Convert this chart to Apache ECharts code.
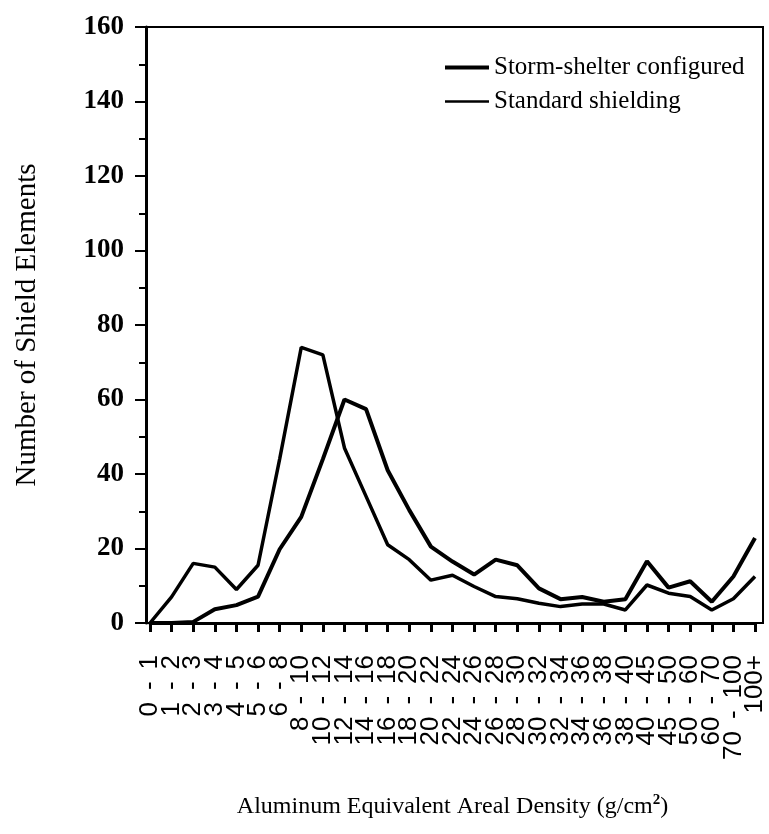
<!DOCTYPE html>
<html>
<head>
<meta charset="utf-8">
<script src="https://cdn.jsdelivr.net/npm/echarts@6/dist/echarts.min.js"></script>
<style>
  html, body { margin: 0; padding: 0; background: #fff; }
  #main { width: 769px; height: 834px; }
</style>
</head>
<body>
<div id="main"></div>
<script>
// 横轴分组 (g/cm2)
let categories = [
  "0 - 1", "1 - 2", "2 - 3", "3 - 4", "4 - 5", "5 - 6", "6 - 8", "8 - 10",
  "10 - 12", "12 - 14", "14 - 16", "16 - 18", "18 - 20", "20 - 22", "22 - 24",
  "24 - 26", "26 - 28", "28 - 30", "30 - 32", "32 - 34", "34 - 36", "36 - 38",
  "38 - 40", "40 - 45", "45 - 50", "50 - 60", "60 - 70", "70 - 100", "100+",
];

let stormShelter = [
  0, 0, 0.3, 3.7, 4.8, 7.1, 19.8, 28.5, 44, 60, 57.4, 41, 30.3, 20.5, 16.5,
  13, 17, 15.5, 9.3, 6.4, 7, 5.7, 6.4, 16.6, 9.5, 11.2, 5.7, 12.5, 22.8,
];

let standard = [
  0, 7, 16, 15, 9, 15.5, 44, 74, 72, 47, 34, 21, 17, 11.5, 12.8,
  9.8, 7.1, 6.5, 5.3, 4.4, 5.1, 5.1, 3.5, 10.2, 8, 7.1, 3.5, 6.5, 12.5,
];

let yTicks = { min: 0, max: 160, interval: 20 };

let serif = "Liberation Serif";
let sans = "Liberation Sans";

let myChart = document.getElementById("main");
let initChart = echarts.init(myChart, null, { renderer: "canvas" });

let option = {
  animation: false,
  backgroundColor: "#fff",

  legend: {
    orient: "vertical",
    left: 443,
    top: 55,
    padding: 0,
    itemWidth: 44,
    itemHeight: 14,
    itemGap: 9,
    itemStyle: { opacity: 0 },
    textStyle: { fontFamily: serif, fontSize: 25, color: "#000" },
    data: [
      { name: "Storm-shelter configured", lineStyle: { width: 4, color: "#000" } },
      { name: "Standard shielding", lineStyle: { width: 2.5, color: "#000" } },
    ],
  },

  grid: [
    // 外框 + 纵轴
    {
      left: 146, right: 6, top: 27, bottom: 211,
      show: true, borderColor: "#000", borderWidth: 2,
      backgroundColor: "transparent",
    },
    // 数据区
    { left: 150, right: 14, top: 27, bottom: 211 },
  ],

  xAxis: [
    { gridIndex: 0, type: "value", show: false, min: 0, max: 1 },
    {
      gridIndex: 1,
      type: "category",
      data: categories,
      boundaryGap: false,
      axisLine: { show: true, lineStyle: { color: "#000", width: 3 } },
      axisTick: { show: true, length: 9, interval: 0, lineStyle: { color: "#000", width: 3 } },
      axisLabel: {
        interval: 0,
        rotate: 90,
        margin: 32,
        fontFamily: sans,
        fontSize: 26,
        color: "#000",
        // 破折号两侧留宽一些
        formatter: (v) => v.replace(" - ", "{d|-}"),
        rich: {
          d: { fontFamily: sans, fontSize: 26, color: "#000", padding: [0, 12, 0, 12] },
        },
      },
      splitLine: { show: false },
      name: "Aluminum Equivalent Areal Density (g/cm{sup|2})",
      nameLocation: "middle",
      nameGap: 170,
      nameTextStyle: {
        fontFamily: serif,
        fontSize: 24,
        color: "#000",
        rich: {
          sup: { fontFamily: serif, fontSize: 15, color: "#000", fontWeight: "bold", verticalAlign: "top", padding: [0, 0, 12, 0] },
        },
      },
    },
  ],

  yAxis: [
    {
      gridIndex: 0,
      type: "value",
      min: yTicks.min,
      max: yTicks.max,
      interval: yTicks.interval,
      axisLine: { show: true, lineStyle: { color: "#000", width: 3 } },
      axisTick: { show: true, length: 11, lineStyle: { color: "#000", width: 2 } },
      minorTick: { show: true, splitNumber: 2, length: 7, lineStyle: { color: "#000", width: 2 } },
      splitLine: { show: false },
      axisLabel: {
        margin: 22,
        fontFamily: serif,
        fontWeight: "bold",
        fontSize: 27,
        color: "#000",
        padding: [0, 0, 8, 0],
      },
      name: "Number of Shield Elements",
      nameLocation: "middle",
      nameGap: 104,
      nameTextStyle: { fontFamily: serif, fontSize: 29, color: "#000" },
    },
    {
      gridIndex: 1,
      type: "value",
      min: yTicks.min,
      max: yTicks.max,
      interval: yTicks.interval,
      show: false,
    },
  ],

  series: [
    {
      name: "Storm-shelter configured",
      type: "line",
      xAxisIndex: 1,
      yAxisIndex: 1,
      data: stormShelter,
      symbol: "none",
      lineStyle: { color: "#000", width: 4 },
      itemStyle: { color: "#000" },
    },
    {
      name: "Standard shielding",
      type: "line",
      xAxisIndex: 1,
      yAxisIndex: 1,
      data: standard,
      symbol: "none",
      lineStyle: { color: "#000", width: 3.5 },
      itemStyle: { color: "#000" },
    },
  ],
};

initChart.setOption(option);
</script>
</body>
</html>
